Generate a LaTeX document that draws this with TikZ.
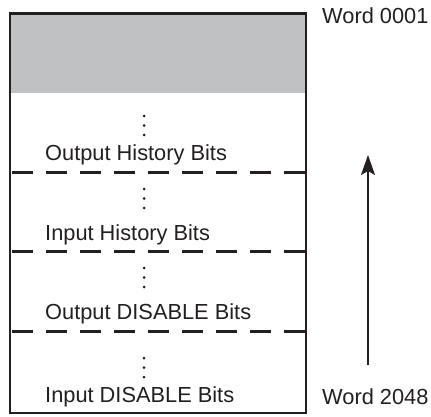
\documentclass[tikz,border=0pt]{standalone}
\usepackage{fontspec}
\setmainfont{Liberation Sans}
\usetikzlibrary{arrows.meta}
\definecolor{ink}{HTML}{231F20}
\definecolor{boxgray}{HTML}{C0C1C3}
\tikzset{
  border/.style={draw=ink, line width=2.6pt},
  divider/.style={draw=ink, line width=2.8pt, dash pattern=on 21pt off 13pt, dash phase=-2pt},
  label/.style={anchor=base west, inner sep=0pt, text=ink, font=\fontsize{21.8}{26}\selectfont},
  vdot/.style={fill=ink, circle, inner sep=0pt, minimum size=3pt},
}
\begin{document}
\begin{tikzpicture}[x=1pt,y=-1pt]
\useasboundingbox (0,0) rectangle (431,417);
% shaded top block
\fill[boxgray] (10,13) rectangle (306,93);
% outer box
\draw[border] (10,13) rectangle (306,413);
\draw[draw=ink, line width=3.4pt] (8.7,13.5) -- (307.3,13.5);
% dashed dividers
\draw[divider] (10,172.5) -- (306,172.5);
\draw[divider] (10,251.5) -- (306,251.5);
\draw[divider] (10,331.5) -- (306,331.5);
% vertical dots
\foreach \y in {116,125.5,135, 189,198.5,208, 268,277.5,287, 358,367.5,377}
  \node[vdot] at (144,\y) {};
% labels
\node[label] (ohb) at (45,160.7) {Output History Bits};
\node[label] (ihb) at (45,240.7) {Input History Bits};
\node[label] (odb) at (45,319.3) {Output DISABLE Bits};
\node[label] (idb) at (45,402.7) {Input DISABLE Bits};
\node[label] (w1) at (322,24) {Word 0001};
\node[label] (w2) at (322,404) {Word 2048};
% arrow
\coordinate (atail) at (368,365);
\coordinate (ahead) at (368,155);
\draw[draw=ink, line width=2pt, -{Stealth[length=20pt,width=14pt,inset=4pt]}] (atail) -- (ahead);
\end{tikzpicture}
\end{document}
